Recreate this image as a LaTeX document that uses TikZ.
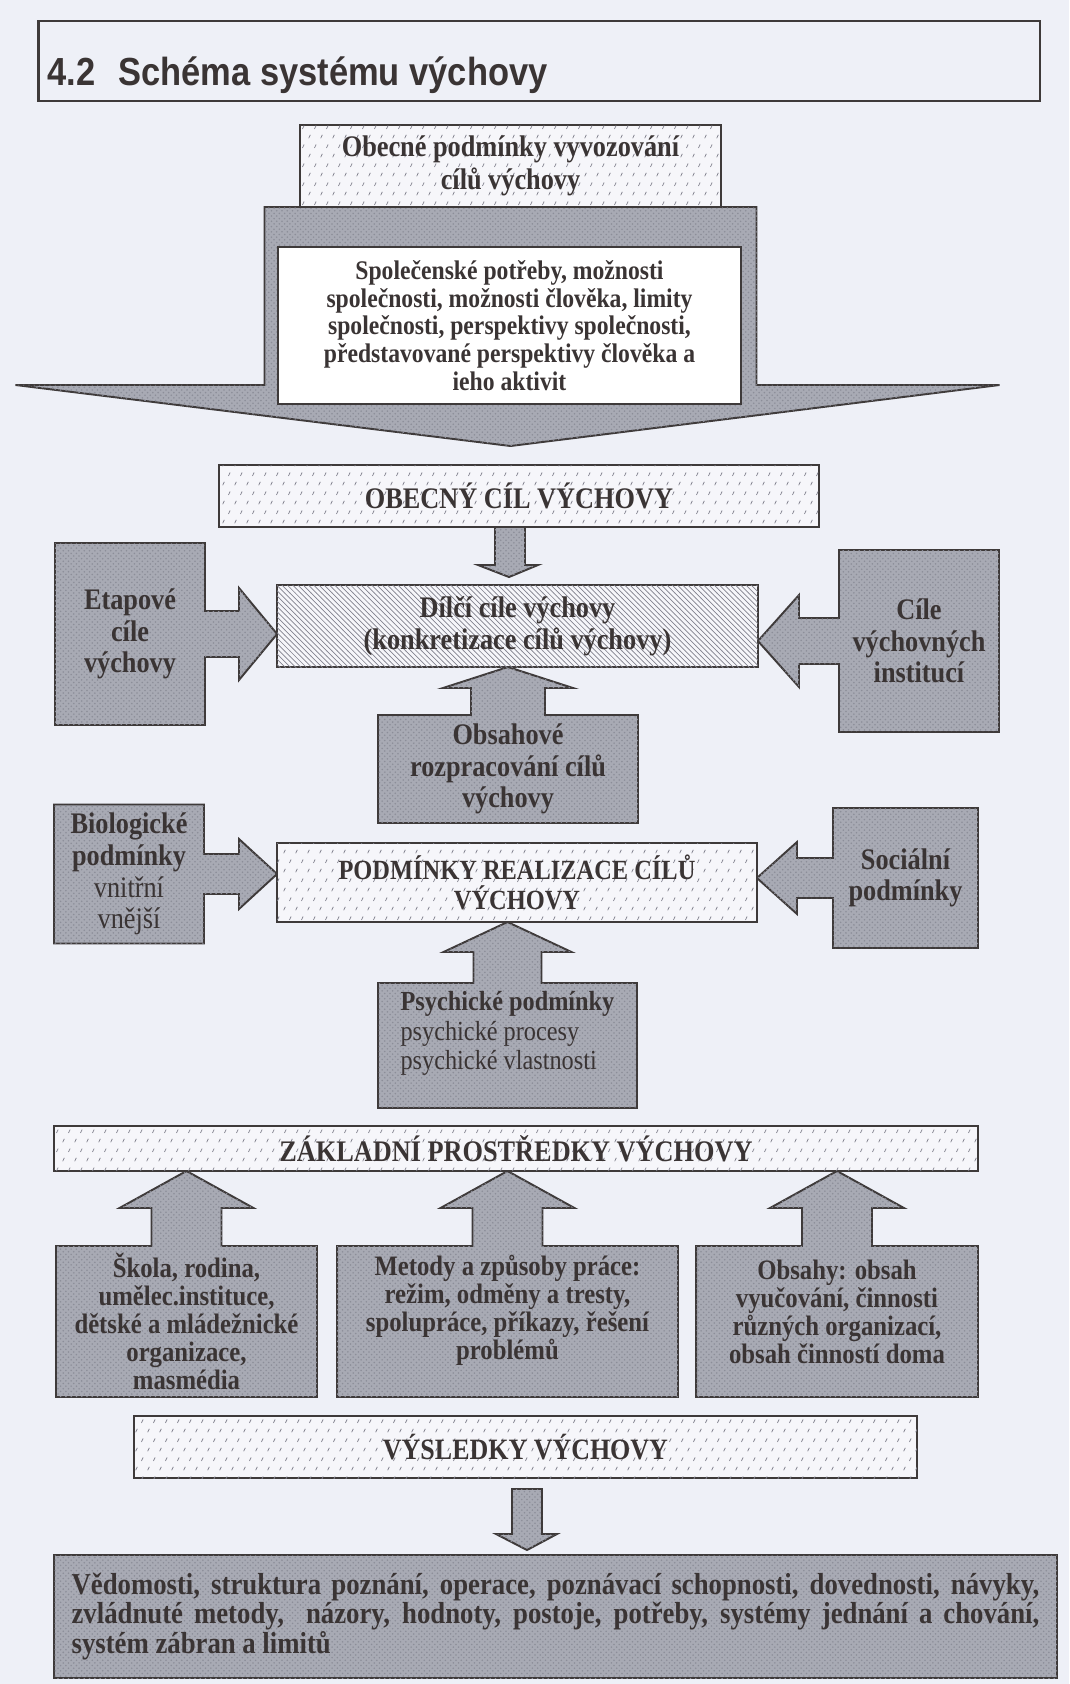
\documentclass[tikz,border=0pt]{standalone}
\usepackage{fontspec}
\setmainfont{Liberation Serif}[FakeStretch=0.88]
\newfontfamily\titlefont{Liberation Sans}[FakeStretch=0.88]
\usetikzlibrary{calc,patterns,backgrounds}
\definecolor{pagebg}{RGB}{238,240,247}
\definecolor{paper}{RGB}{246,246,250}
\definecolor{blockgray}{RGB}{168,170,180}
\definecolor{grain}{RGB}{140,142,153}
\definecolor{edge}{RGB}{62,58,58}
\definecolor{txt}{RGB}{58,52,52}
\definecolor{dash}{RGB}{130,130,142}
\pgfdeclarepatternformonly{confetti}{\pgfqpoint{0pt}{0pt}}{\pgfqpoint{7pt}{11pt}}{\pgfqpoint{7pt}{11pt}}{%
  \pgfsetlinewidth{0.45pt}%
  \pgfpathmoveto{\pgfqpoint{1pt}{1pt}}\pgfpathlineto{\pgfqpoint{2pt}{3pt}}%
  \pgfpathmoveto{\pgfqpoint{4.5pt}{6.5pt}}\pgfpathlineto{\pgfqpoint{5.5pt}{8.5pt}}%
  \pgfusepath{stroke}}
\begin{document}
\begin{tikzpicture}[x=0.02cm,y=-0.02cm,
  every node/.style={text=txt,inner sep=0pt,outer sep=0pt,align=center,font=\bfseries\fontsize{17}{18}\selectfont},
  dotbox/.style={draw=edge,line width=1.1pt,fill=paper,postaction={pattern=confetti,pattern color=dash}},
  hatchbox/.style={draw=edge,line width=1.1pt,fill=paper,postaction={pattern=north west lines,pattern color=dash}},
  blk/.style={draw=edge,line width=1.1pt,fill=blockgray,postaction={pattern=crosshatch dots,pattern color=grain}},
  smalltext/.style={font=\bfseries\fontsize{16}{15.9}\selectfont}]
  \node[draw=edge,line width=1.6pt,minimum width=20.04cm,minimum height=1.6cm] (title) at (539,61) {};
  \node[anchor=base west,font=\titlefont\bfseries\fontsize{22.3}{26}\selectfont] (titletext) at ($(title.south west)+(9.5,-15)$)
    {4.2\hspace{13pt}Schéma systému výchovy};
  \node[dotbox,minimum width=8.42cm,minimum height=1.64cm,font=\bfseries\fontsize{17}{18.7}\selectfont] (podminky) at (510.5,166) {Obecné podmínky vyvozování\\cílů výchovy};
  \node[draw=edge,line width=1.1pt,fill=white,minimum width=9.26cm,minimum height=3.14cm,font=\bfseries\fontsize{15.3}{15.7}\selectfont] (spolecnost) at (509.5,325.5)
    {Společenské potřeby, možnosti\\společnosti, možnosti člověka, limity\\společnosti, perspektivy společnosti,\\představované perspektivy člověka a\\ieho aktivit};
  \node[dotbox,minimum width=12cm,minimum height=1.24cm] (obecnycil) at (519,496) {OBECNÝ CÍL VÝCHOVY};
  \node[hatchbox,minimum width=9.62cm,minimum height=1.64cm] (dilci) at (517.5,626) {Dílčí cíle výchovy\\(konkretizace cílů výchovy)};
  \node[minimum width=3cm,minimum height=3.64cm] (etapove) at (130,634) {Etapové\\cíle\\výchovy};
  \node[minimum width=3.2cm,minimum height=3.64cm] (instituce) at (919,641) {Cíle\\výchovných\\institucí};
  \node[minimum width=5.2cm,minimum height=2.16cm,font=\bfseries\fontsize{17}{17.9}\selectfont] (obsahove) at (508,769) {Obsahové\\rozpracování cílů\\výchovy};
  \node[minimum width=3cm,minimum height=2.78cm] (biologicke) at (129,874) {Biologické\\podmínky\\{\mdseries vnitřní}\\{\mdseries vnější}};
  \node[dotbox,minimum width=9.6cm,minimum height=1.58cm,font=\bfseries\fontsize{15.8}{17}\selectfont] (realizace) at (517,882.5) {PODMÍNKY REALIZACE CÍLŮ\\VÝCHOVY};
  \node[minimum width=2.9cm,minimum height=2.8cm] (socialni) at (905.5,878) {Sociální\\podmínky};
  \node[minimum width=5.18cm,minimum height=2.5cm] (psychicke) at (507.5,1045.5) {};
  \node[align=left,font=\bfseries\fontsize{15.7}{16.7}\selectfont] (psychtext) at ($(psychicke.center)+(0,-12)$)
    {Psychické podmínky\\{\mdseries psychické procesy}\\{\mdseries psychické vlastnosti}};
  \node[dotbox,minimum width=18.48cm,minimum height=0.9cm] (prostredky) at (516,1148.5) {ZÁKLADNÍ PROSTŘEDKY VÝCHOVY};
  \node[smalltext,minimum width=5.22cm,minimum height=3.02cm] (skola) at (186.5,1321.5) {Škola, rodina,\\umělec.instituce,\\dětské a mládežnické\\organizace,\\masmédia};
  \node[minimum width=6.82cm,minimum height=3.02cm] (metody) at (507.5,1321.5) {};
  \node[smalltext] (metodytext) at ($(metody.center)+(0,-11)$) {Metody a způsoby práce:\\režim, odměny a tresty,\\spolupráce, příkazy, řešení\\problémů};
  \node[minimum width=5.64cm,minimum height=3.02cm] (obsahy) at (837,1321.5) {};
  \node[smalltext] (obsahytext) at ($(obsahy.center)+(0,-10)$) {Obsahy: obsah\\vyučování, činnosti\\různých organizací,\\obsah činností doma};
  \node[dotbox,minimum width=15.66cm,minimum height=1.24cm,font=\bfseries\fontsize{16.8}{18}\selectfont] (vysledky) at (525.5,1447) {VÝSLEDKY VÝCHOVY};
  \node[blk,minimum width=20.06cm,minimum height=2.46cm,align=left,font=\bfseries\fontsize{17.3}{16.7}\selectfont] (znalosti) at (555.5,1616.5)
    {\makebox[19.36cm][s]{Vědomosti, struktura poznání, operace, poznávací schopnosti, dovednosti, návyky,}\\
     \makebox[19.36cm][s]{zvládnuté metody,\ \ názory, hodnoty, postoje, potřeby, systémy jednání a chování,}\\
     \makebox[19.36cm][l]{systém zábran a limitů}};
  \begin{scope}[on background layer]
    \fill[pagebg] (0,0) rectangle (1069,1684);
    \filldraw[blk] ($(podminky.south)+(-246,0)$) -- ($(podminky.south)+(-246,178)$) -- ($(podminky.south)+(-495,178)$)
      -- ($(podminky.south |- obecnycil.north)+(0,-19)$) -- ($(podminky.south)+(489,178)$) -- ($(podminky.south)+(246,178)$)
      -- ($(podminky.south)+(246,0)$) -- cycle;
    \filldraw[blk] ($(obecnycil.south)+(-24,0)$) -- ($(obecnycil.south)+(-24,38)$) -- ($(obecnycil.south)+(-41,38)$)
      -- ($(dilci.north)+(-8.5,-8)$) -- ($(obecnycil.south)+(19,38)$) -- ($(obecnycil.south)+(6,38)$) -- ($(obecnycil.south)+(6,0)$) -- cycle;
    \filldraw[blk] (etapove.south west) -- (etapove.north west) -- (etapove.north east)
      -- ($(etapove.east)+(0,-23)$) -- ($(etapove.east)+(34,-23)$) -- ($(etapove.east)+(34,-46)$)
      -- (dilci.west |- etapove.east)
      -- ($(etapove.east)+(34,46)$) -- ($(etapove.east)+(34,23)$) -- ($(etapove.east)+(0,23)$)
      -- (etapove.south east) -- cycle;
    \filldraw[blk] (instituce.south east) -- (instituce.north east) -- (instituce.north west)
      -- ($(instituce.west)+(0,-23)$) -- ($(instituce.west)+(-40,-23)$) -- ($(instituce.west)+(-40,-46)$)
      -- (dilci.east |- instituce.west)
      -- ($(instituce.west)+(-40,46)$) -- ($(instituce.west)+(-40,23)$) -- ($(instituce.west)+(0,23)$)
      -- (instituce.south west) -- cycle;
    \filldraw[blk] (obsahove.south west) -- (obsahove.north west) -- ($(obsahove.north)+(-37,0)$) -- ($(obsahove.north)+(-37,-27)$)
      -- ($(obsahove.north)+(-65,-27)$) -- (obsahove.north |- dilci.south) -- ($(obsahove.north)+(65,-27)$)
      -- ($(obsahove.north)+(37,-27)$) -- ($(obsahove.north)+(37,0)$) -- (obsahove.north east) -- (obsahove.south east) -- cycle;
    \filldraw[blk] (biologicke.south west) -- (biologicke.north west) -- (biologicke.north east)
      -- ($(biologicke.east)+(0,-20)$) -- ($(biologicke.east)+(35,-20)$) -- ($(biologicke.east)+(35,-35)$)
      -- (realizace.west |- biologicke.east)
      -- ($(biologicke.east)+(35,35)$) -- ($(biologicke.east)+(35,20)$) -- ($(biologicke.east)+(0,20)$)
      -- (biologicke.south east) -- cycle;
    \filldraw[blk] (socialni.south east) -- (socialni.north east) -- (socialni.north west)
      -- ($(socialni.west)+(0,-20)$) -- ($(socialni.west)+(-36,-20)$) -- ($(socialni.west)+(-36,-36)$)
      -- (realizace.east |- socialni.west)
      -- ($(socialni.west)+(-36,36)$) -- ($(socialni.west)+(-36,20)$) -- ($(socialni.west)+(0,20)$)
      -- (socialni.south west) -- cycle;
    \filldraw[blk] (psychicke.south west) -- (psychicke.north west) -- ($(psychicke.north)+(-34,0)$) -- ($(psychicke.north)+(-34,-31)$)
      -- ($(psychicke.north)+(-64,-31)$) -- (psychicke.north |- realizace.south) -- ($(psychicke.north)+(64,-31)$)
      -- ($(psychicke.north)+(34,-31)$) -- ($(psychicke.north)+(34,0)$) -- (psychicke.north east) -- (psychicke.south east) -- cycle;
    \foreach \b in {skola,metody,obsahy}
      \filldraw[blk] (\b.south west) -- (\b.north west) -- ($(\b.north)+(-35,0)$) -- ($(\b.north)+(-35,-38)$)
        -- ($(\b.north)+(-67,-38)$) -- (\b.north |- prostredky.south) -- ($(\b.north)+(67,-38)$)
        -- ($(\b.north)+(35,-38)$) -- ($(\b.north)+(35,0)$) -- (\b.north east) -- (\b.south east) -- cycle;
    \filldraw[blk] ($(vysledky.south)+(-13.5,11)$) -- ($(vysledky.south)+(-13.5,56)$) -- ($(vysledky.south)+(-29.5,56)$)
      -- ($(znalosti.north)+(-28.5,-5)$) -- ($(vysledky.south)+(31.5,56)$) -- ($(vysledky.south)+(16.5,56)$)
      -- ($(vysledky.south)+(16.5,11)$) -- cycle;
  \end{scope}
\end{tikzpicture}
\end{document}
